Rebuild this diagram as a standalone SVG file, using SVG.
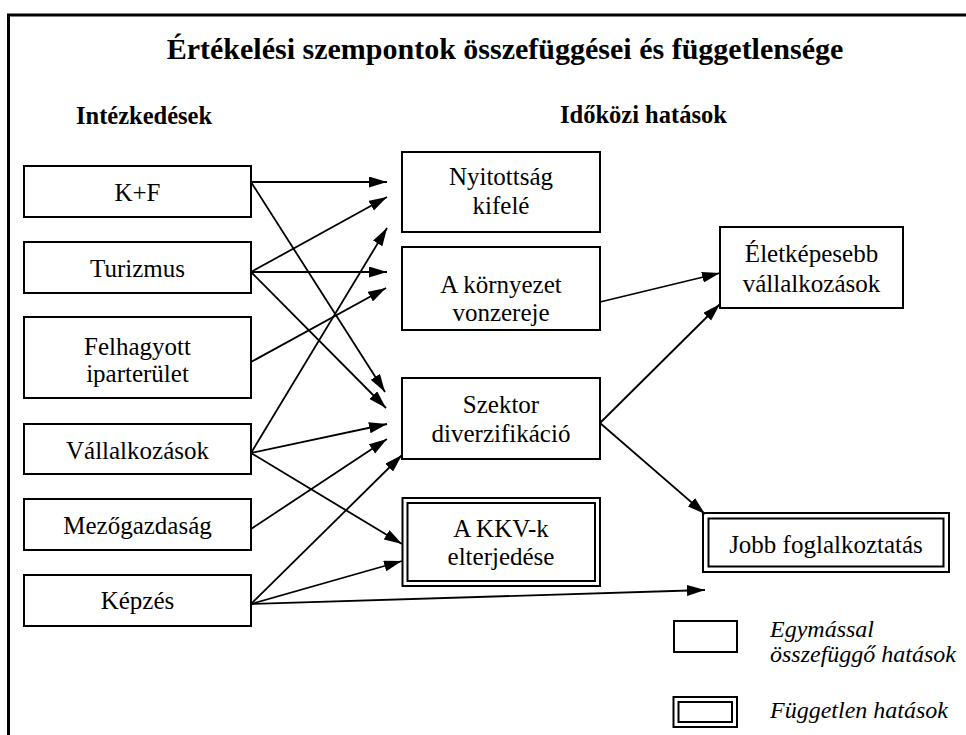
<svg xmlns="http://www.w3.org/2000/svg" width="966" height="735" viewBox="0 0 966 735">
  <style>
    .frame { fill: none; stroke: #000; stroke-width: 3; }
    .box { fill: #fff; stroke: #000; stroke-width: 2; }
    .inner { fill: none; stroke: #000; stroke-width: 2; }
    .lbl { font-family: "Liberation Serif", "Times New Roman", serif; font-size: 25px; fill: #000; text-anchor: middle; }
    .head { font-family: "Liberation Serif", "Times New Roman", serif; font-size: 24.5px; font-weight: bold; fill: #000; }
    .title { font-family: "Liberation Serif", "Times New Roman", serif; font-size: 30px; font-weight: bold; fill: #000; text-anchor: middle; }
    .legend { font-family: "Liberation Serif", "Times New Roman", serif; font-size: 24px; font-style: italic; fill: #000; }
    .conn line { stroke: #000; stroke-width: 1.8; marker-end: url(#arrow); }
  </style>
  <defs>
    <marker id="arrow" markerUnits="userSpaceOnUse" markerWidth="19" markerHeight="12" refX="18" refY="5.5" orient="auto">
      <path d="M0,0 L18,5.5 L0,11 Z" fill="#000"/>
    </marker>
  </defs>

  <rect width="966" height="735" fill="#fff"/>
  <!-- outer frame: left and top edges are visible -->
  <rect class="frame" x="8.5" y="15" width="980" height="760"/>

  <text class="title" x="505" y="59">Értékelési szempontok összefüggései és függetlensége</text>
  <text class="head" x="76" y="124">Intézkedések</text>
  <text class="head" x="560" y="123">Időközi hatások</text>

  <!-- measures (left column) -->
  <g id="kf">
    <rect class="box" x="24" y="166" width="227" height="51"/>
    <text class="lbl" x="137.5" y="201">K+F</text>
  </g>
  <g id="turizmus">
    <rect class="box" x="24" y="242" width="227" height="51"/>
    <text class="lbl" x="137.5" y="277">Turizmus</text>
  </g>
  <g id="felhagyott">
    <rect class="box" x="24" y="317" width="227" height="81"/>
    <text class="lbl" x="137.5" y="355">Felhagyott</text>
    <text class="lbl" x="137.5" y="382">iparterület</text>
  </g>
  <g id="vallalkozasok">
    <rect class="box" x="24" y="424" width="227" height="50"/>
    <text class="lbl" x="137.5" y="459">Vállalkozások</text>
  </g>
  <g id="mezogazdasag">
    <rect class="box" x="24" y="499" width="227" height="51"/>
    <text class="lbl" x="137.5" y="534">Mezőgazdaság</text>
  </g>
  <g id="kepzes">
    <rect class="box" x="24" y="575" width="227" height="51"/>
    <text class="lbl" x="137.5" y="609">Képzés</text>
  </g>

  <!-- intermediate effects (middle column) -->
  <g id="nyitottsag">
    <rect class="box" x="402" y="152" width="198" height="80"/>
    <text class="lbl" x="501" y="185">Nyitottság</text>
    <text class="lbl" x="501" y="214">kifelé</text>
  </g>
  <g id="kornyezet">
    <rect class="box" x="402" y="247" width="198" height="83"/>
    <text class="lbl" x="501" y="293">A környezet</text>
    <text class="lbl" x="501" y="321">vonzereje</text>
  </g>
  <g id="szektor">
    <rect class="box" x="402" y="378" width="198" height="81"/>
    <text class="lbl" x="501" y="413">Szektor</text>
    <text class="lbl" x="501" y="442">diverzifikáció</text>
  </g>
  <g id="kkv">
    <rect class="box" x="402.5" y="498" width="197.5" height="88"/>
    <rect class="inner" x="407.5" y="503" width="187.5" height="78"/>
    <text class="lbl" x="501" y="537">A KKV-k</text>
    <text class="lbl" x="501" y="565">elterjedése</text>
  </g>

  <!-- outcomes (right column) -->
  <g id="eletkepesebb">
    <rect class="box" x="720" y="227" width="183" height="81"/>
    <text class="lbl" x="811.5" y="262">Életképesebb</text>
    <text class="lbl" x="811.5" y="292">vállalkozások</text>
  </g>
  <g id="jobb">
    <rect class="box" x="703" y="513" width="246" height="59"/>
    <rect class="inner" x="708.5" y="518.5" width="235" height="48"/>
    <text class="lbl" x="826" y="553">Jobb foglalkoztatás</text>
  </g>

  <!-- legend -->
  <g id="legend">
    <rect class="box" x="674" y="621" width="63" height="31"/>
    <text class="legend" x="770" y="637">Egymással</text>
    <text class="legend" x="770" y="662">összefüggő hatások</text>
    <rect class="box" x="673.5" y="697" width="63.5" height="30"/>
    <rect class="inner" x="678.5" y="702" width="53.5" height="20"/>
    <text class="legend" x="770" y="718">Független hatások</text>
  </g>

  <!-- connectors -->
  <g id="connectors" class="conn">
    <line x1="251" y1="182" x2="387" y2="182"/>
    <line x1="251" y1="182" x2="385" y2="392"/>
    <line x1="251" y1="272" x2="387" y2="197"/>
    <line x1="251" y1="272" x2="387" y2="272"/>
    <line x1="251" y1="272" x2="386" y2="408"/>
    <line x1="251" y1="362" x2="386" y2="288"/>
    <line x1="251" y1="453" x2="387" y2="228"/>
    <line x1="251" y1="453" x2="387" y2="424"/>
    <line x1="251" y1="453" x2="402" y2="544"/>
    <line x1="251" y1="529" x2="387" y2="439"/>
    <line x1="251" y1="604" x2="402" y2="455"/>
    <line x1="251" y1="604" x2="402" y2="561"/>
    <line x1="251" y1="604" x2="705" y2="590"/>
    <line x1="600" y1="302" x2="720" y2="273"/>
    <line x1="600" y1="423" x2="720" y2="304"/>
    <line x1="600" y1="423" x2="705" y2="514"/>
  </g>
</svg>
